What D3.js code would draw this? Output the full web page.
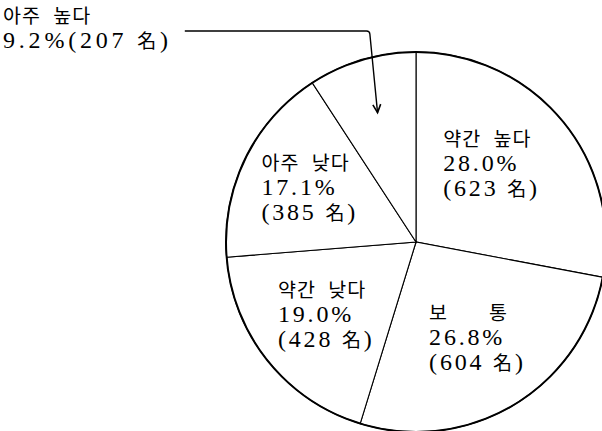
<!DOCTYPE html>
<html>
<head>
<meta charset="utf-8">
<script src="https://cdn.jsdelivr.net/npm/d3@7"></script>
<style>
  html, body { margin: 0; padding: 0; background: #fff; }
  svg { display: block; }
</style>
</head>
<body>
<svg id="chart" width="602" height="431"></svg>
<script>
// Survey answer shares, clockwise from 12 o'clock
const categories = ["약간 높다", "보\u3000\u3000통", "약간 낮다", "아주 낮다", "아주 높다"];
const percents = [28.0, 26.8, 19.0, 17.1, 9.2];
const counts = [623, 604, 428, 385, 207];

const cx = 416, cy = 242, R = 190;
const KR = '"Noto Sans CJK KR", "Noto Sans CJK SC", sans-serif';
const NUM = '"Liberation Serif", "DejaVu Serif", serif';

const svg = d3.select("#chart");
const g = svg.append("g").attr("transform", `translate(${cx},${cy})`);

const pie = d3.pie().sort(null).value(d => d)(percents);
const arc = d3.arc().innerRadius(0).outerRadius(R);

// slices: thin radial borders
g.selectAll("path.slice")
  .data(pie)
  .join("path")
  .attr("class", "slice")
  .attr("d", arc)
  .attr("fill", "#fff")
  .attr("stroke", "#000")
  .attr("stroke-width", 1.1);

// heavier outer rim
g.append("circle")
  .attr("r", R)
  .attr("fill", "none")
  .attr("stroke", "#000")
  .attr("stroke-width", 2);

// text helpers
function nameLine(sel, text) {
  return sel.append("text")
    .attr("font-family", KR)
    .attr("font-size", 19.5)
    .attr("letter-spacing", "1px")
    .attr("word-spacing", "7px")
    .attr("fill", "#000")
    .style("white-space", "pre")
    .text(text);
}
function numLine(sel, parts, ls) {
  const t = sel.append("text")
    .attr("font-family", NUM)
    .attr("font-size", 24)
    .attr("letter-spacing", (ls || 2.8) + "px")
    .attr("fill", "#000")
    .style("white-space", "pre");
  parts.forEach(p => {
    const s = t.append("tspan").text(p.text);
    if (p.kr) s.attr("font-family", KR).attr("font-size", 19);
  });
  return t;
}
const pctText = v => v.toFixed(1) + "%";
const cntParts = n => [{ text: "(" + n + " " }, { text: "名", kr: true }, { text: ")" }];

// inside labels, placed around each slice's centroid
const labelArc = d3.arc().innerRadius(115).outerRadius(115);
const nudge = [[-13, -6], [2, -3], [0, 0], [-3, -4]];
const lineGap = 25;

pie.slice(0, 4).forEach((d, i) => {
  const lg = g.append("g");
  const t1 = nameLine(lg, categories[d.index]).attr("y", 0);
  const t2 = numLine(lg, [{ text: pctText(percents[d.index]) }]).attr("y", lineGap);
  const t3 = numLine(lg, cntParts(counts[d.index])).attr("y", lineGap * 2);
  const w = d3.max([t1, t2, t3], t => t.node().getComputedTextLength());
  const [mx, my] = labelArc.centroid(d);
  const left = mx + nudge[i][0] - w / 2;
  const base = my + nudge[i][1] - 17;
  lg.attr("transform", `translate(${left},${base})`);
});

// outside label for the small slice, with a leader arrow
const last = pie[4];
const og = svg.append("g").attr("transform", "translate(3,23)");
nameLine(og, categories[last.index]).attr("y", 0);
const ot = numLine(og, [
  { text: pctText(percents[last.index]) + "(" + counts[last.index] + " " },
  { text: "名", kr: true },
  { text: ")" }
], 3.8).attr("y", 25);

const tipArc = d3.arc().innerRadius(135).outerRadius(135);
const [tx, ty] = tipArc.centroid(last);
const tip = [cx + tx, cy + ty];
const startX = 3 + ot.node().getComputedTextLength() + 13;
const lineY = 31;
const cornerX = tip[0] - 8;

const leader = d3.path();
leader.moveTo(startX, lineY);
leader.lineTo(cornerX - 3, lineY);
leader.quadraticCurveTo(cornerX, lineY, cornerX + 0.3, lineY + 3);
leader.lineTo(tip[0], tip[1]);
svg.append("path")
  .attr("d", leader.toString())
  .attr("fill", "none")
  .attr("stroke", "#000")
  .attr("stroke-width", 1.4);

// open arrowhead aligned with the last segment
const ang = Math.atan2(tip[1] - lineY - 3, tip[0] - cornerX - 0.3);
const hl = 9, hw = 0.45;
const head = d3.path();
head.moveTo(tip[0] - hl * Math.cos(ang - hw), tip[1] - hl * Math.sin(ang - hw));
head.lineTo(tip[0], tip[1]);
head.lineTo(tip[0] - hl * Math.cos(ang + hw), tip[1] - hl * Math.sin(ang + hw));
svg.append("path")
  .attr("d", head.toString())
  .attr("fill", "none")
  .attr("stroke", "#000")
  .attr("stroke-width", 1.6);
</script>
</body>
</html>
